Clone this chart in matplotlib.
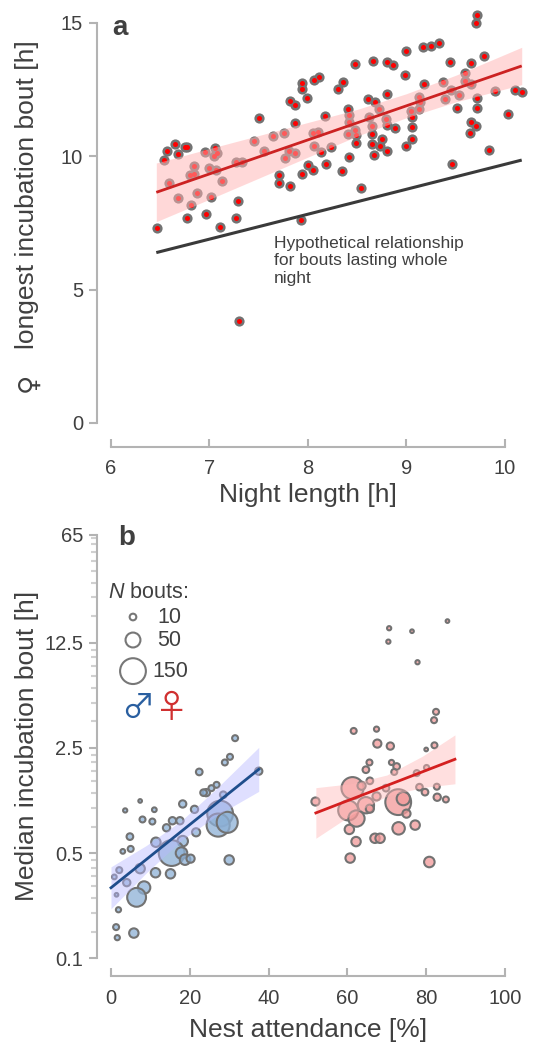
import numpy as np
import matplotlib
matplotlib.use('Agg')
import matplotlib.pyplot as plt

plt.rcParams['font.family'] = ['Liberation Sans', 'DejaVu Sans']
plt.rcParams['mathtext.fontset'] = 'custom'
plt.rcParams['mathtext.it'] = 'Liberation Sans:italic'
plt.rcParams['mathtext.rm'] = 'Liberation Sans'

# ---------------- Panel a data ----------------
night_length = [
    6.54, 6.57, 6.65, 6.68, 6.75, 6.77, 6.95, 7.06, 7.08, 7.05, 6.84, 6.84, 6.80,
    6.59, 6.99, 7.07, 7.13, 7.27, 7.33, 7.45, 7.50, 7.55, 7.64, 6.68, 6.87, 7.02,
    6.81, 7.29, 6.77, 6.96, 7.27, 6.47, 7.11, 7.71, 7.71, 7.82, 7.77,
    7.30, 7.93, 7.94, 8.00, 8.05, 8.18, 8.35, 8.54, 9.46,
    9.71, 9.72, 9.79, 9.17, 9.25, 9.33, 9.00, 8.48, 8.66, 8.80, 8.86, 9.44, 9.65,
    8.98, 9.59, 9.18, 9.37, 9.59, 9.65, 9.90, 10.10, 10.17, 10.03, 7.94, 7.94,
    8.06, 8.11, 8.30, 8.36, 7.82, 7.87, 7.99, 7.76, 7.87, 8.05, 8.10, 8.17, 8.41,
    8.42, 8.42, 8.41, 8.48, 8.49, 8.06, 8.13, 8.23, 7.81, 7.87, 8.42, 8.49, 8.61,
    8.68, 8.80, 8.72, 8.62, 8.79, 8.80, 8.65, 8.65, 8.88, 8.65, 8.75, 8.73, 8.80,
    8.67, 9.00, 9.06, 9.06, 9.06, 9.05, 9.13, 9.13, 9.14, 9.39, 9.45, 9.53, 9.51,
    9.72, 9.72, 9.65, 9.71, 9.64, 9.84,
]
longest_bout = [
    9.86, 10.20, 10.45, 10.09, 10.34, 10.34, 10.17, 10.30, 10.14, 10.01, 9.64, 9.34, 9.30,
    8.99, 9.55, 9.49, 9.09, 9.80, 9.80, 10.59, 11.45, 10.20, 10.77, 8.45, 8.63, 8.46,
    8.17, 8.34, 7.67, 7.83, 7.67, 7.30, 7.34, 9.30, 9.01, 8.89, 9.92,
    3.84, 7.61, 9.34, 9.67, 9.49, 9.71, 9.46, 8.80, 9.70,
    14.99, 15.30, 13.77, 14.09, 14.15, 14.24, 13.95, 13.45, 13.58, 13.52, 13.42, 13.52, 13.49,
    13.05, 13.13, 12.71, 12.80, 12.82, 12.70, 12.45, 12.49, 12.42, 11.57, 12.74, 12.51,
    12.88, 12.96, 12.51, 12.80, 12.07, 11.92, 12.20, 10.86, 11.26, 10.86, 10.92, 11.52, 11.76,
    11.55, 11.30, 10.83, 10.99, 10.80, 10.39, 10.17, 10.34, 10.20, 10.14, 9.96, 10.51, 12.14,
    12.05, 12.34, 11.76, 11.49, 11.39, 11.17, 11.14, 10.84, 11.05, 10.46, 10.64, 10.39, 10.21,
    10.05, 10.39, 10.64, 11.09, 11.49, 11.71, 11.76, 12.24, 12.05, 12.14, 12.49, 12.30, 11.80,
    12.17, 11.80, 11.27, 11.14, 10.89, 10.24,
]
fit_a_x = [6.46, 10.17]
fit_a_y = [8.65, 13.39]
band_a_x = [6.46, 7.0, 7.5, 8.0, 8.5, 9.0, 9.5, 10.17]
band_a_lo = [7.55, 8.39, 9.18, 9.97, 10.76, 11.45, 12.04, 12.69]
band_a_hi = [9.75, 10.29, 10.78, 11.27, 11.76, 12.35, 13.04, 14.09]
hypo_x = [6.46, 10.17]
hypo_y = [6.39, 9.86]

# ---------------- Panel b data ----------------
male_att = [37.5, 31.5, 30.2, 28.9, 22.4, 26.8, 25.5, 24.2, 23.5, 28.5, 18.2, 7.4, 3.6,
            11.0, 21.2, 8.0, 10.5, 14.1, 15.6, 17.5, 27.7, 27.2, 29.5, 21.6, 4.8, 11.4,
            5.0, 3.0, 18.2, 15.4, 17.9, 18.8, 20.2, 30.0, 7.4, 2.1, 0.85, 4.0, 11.3, 15.1,
            8.4, 6.5, 1.4, 1.9, 1.3, 1.6, 5.8]
male_med = [1.75, 2.9, 2.18, 2.0, 1.73, 1.42, 1.35, 1.26, 1.26, 1.22, 1.06, 1.11, 0.96,
            0.97, 0.976, 0.836, 0.81, 0.736, 0.82, 0.82, 0.914, 0.767, 0.80, 0.687, 0.643, 0.59,
            0.533, 0.513, 0.60, 0.50, 0.50, 0.452, 0.459, 0.45, 0.394, 0.385, 0.347, 0.318, 0.37, 0.364,
            0.295, 0.254, 0.264, 0.21, 0.161, 0.137, 0.147]
male_n = [12, 8, 8, 8, 10, 8, 8, 12, 10, 10, 12, 3, 4,
          5, 12, 8, 8, 12, 12, 12, 150, 120, 100, 15, 10, 20,
          8, 5, 25, 150, 30, 25, 15, 20, 20, 8, 5, 12, 20, 20,
          35, 80, 3, 6, 8, 6, 20]

female_att = [51.9, 61.3, 63.6, 65.6, 64.7, 65.7, 67.4, 64.7, 65.7, 60.2, 62.3, 60.5, 62.2,
              60.7, 67.0, 68.3, 71.2, 72.5, 71.9, 69.8, 72.9, 74.2, 75.0, 73.0, 77.2, 77.6,
              80.1, 78.3, 79.7, 82.7, 82.8, 85.0, 80.8,
              70.6, 70.4, 76.4, 85.4, 77.8, 82.5, 82.0, 61.6, 67.4, 67.6, 70.9, 82.1, 80.0]
female_med = [1.10, 1.35, 1.40, 2.0, 1.79, 1.51, 1.19, 1.04, 0.986, 0.96, 0.848, 0.718, 0.596,
              0.463, 0.627, 0.627, 2.0, 1.88, 1.73, 1.35, 1.09, 1.15, 0.914, 0.73, 0.767, 1.7,
              1.85, 1.37, 1.27, 1.38, 1.175, 1.135, 0.436,
              15.6, 12.7, 14.9, 17.4, 9.27, 4.34, 3.82, 3.24, 3.33, 2.67, 2.57, 2.6, 2.44]
female_n = [15, 110, 15, 8, 10, 10, 15, 60, 15, 90, 60, 20, 20,
            20, 20, 20, 6, 10, 8, 10, 150, 40, 15, 35, 20, 8,
            6, 10, 10, 8, 12, 8, 25,
            4, 4, 3, 3, 4, 8, 8, 8, 6, 15, 12, 8, 3]

fit_m_x = [0.0, 37.5]
fit_m_y = [0.294, 1.80]
band_m_x = [0, 9, 18, 27, 37.5]
band_m_lo = [0.213, 0.370, 0.610, 0.894, 1.285]
band_m_hi = [0.405, 0.562, 0.826, 1.358, 2.52]

fit_f_x = [52.0, 87.3]
fit_f_y = [0.924, 2.10]
band_f_x = [52, 61, 70, 79, 87.3]
band_f_lo = [0.627, 0.897, 1.195, 1.363, 1.443]
band_f_hi = [1.36, 1.445, 1.65, 2.197, 3.05]

legend_n = [10, 50, 150]

yb_major = [0.1, 0.5, 2.5, 12.5, 65]
yb_major_labels = ['0.1', '0.5', '2.5', '12.5', '65']
yb_minor = [0.15, 0.2, 0.25, 0.3, 0.35, 0.4, 0.45,
            0.75, 1.0, 1.25, 1.5, 1.75, 2.0, 2.25,
            3.75, 5.0, 6.25, 7.5, 8.75, 10.0, 11.25,
            18.75, 25.0, 31.25, 37.5, 43.75, 50.0, 56.25, 62.5]

# ---------------- Figure ----------------
W, H = 553, 1046
fig = plt.figure(figsize=(W / 100, H / 100), dpi=100)


def rect(l, r, t, b):
    return [l / W, 1 - b / H, (r - l) / W, (b - t) / H]


axa = fig.add_axes(rect(97, 530, 10, 447))
axb = fig.add_axes(rect(97, 530, 525, 976))

SPINE = '#b3b3b3'
TXT = '#404040'

for ax in (axa, axb):
    ax.patch.set_alpha(0)
    for s in ('top', 'right'):
        ax.spines[s].set_visible(False)
    for s in ('left', 'bottom'):
        ax.spines[s].set_color(SPINE)
        ax.spines[s].set_linewidth(1.5)
    ax.tick_params(axis='x', direction='in', length=6, width=1.5, color=SPINE,
                   labelsize=14.5, labelcolor=TXT, pad=9)
    ax.tick_params(axis='y', direction='out', length=6, width=1.5, color=SPINE,
                   labelsize=14.5, labelcolor=TXT, pad=4)

# ---- panel a ----
axa.set_xlim(5.858, 10.254)
axa.set_ylim(-0.9, 15.4875)
axa.spines['left'].set_bounds(0, 15)
axa.spines['bottom'].set_bounds(6, 10)
axa.set_xticks([6, 7, 8, 9, 10])
axa.set_yticks([0, 5, 10, 15])

axa.scatter(night_length, longest_bout, s=54, color='#737373', linewidths=0, zorder=2)
axa.scatter(night_length, longest_bout, s=13, color='#ff0000', linewidths=0, zorder=2.1)
axa.fill_between(band_a_x, band_a_lo, band_a_hi, color='#ffb3b3', alpha=0.5,
                 linewidth=0, zorder=3)
axa.plot(fit_a_x, fit_a_y, color='#cc2222', lw=2.0, zorder=4, solid_capstyle='butt')
axa.plot(hypo_x, hypo_y, color='#3a3a3a', lw=2.2, zorder=4, solid_capstyle='butt')
axa.text(7.655, 7.01, 'Hypothetical relationship\nfor bouts lasting whole\nnight',
         fontsize=12.5, color=TXT, ha='left', va='top', linespacing=1.2)
axa.text(0.035, 0.943, 'a', transform=axa.transAxes, fontsize=20, fontweight='bold',
         color=TXT, ha='left', va='baseline')

# ---- panel b ----
axb.set_yscale('log')
axb.set_xlim(-3.55, 106.35)
axb.set_ylim(0.0762, 75.7)
axb.spines['left'].set_bounds(0.1, 65)
axb.spines['bottom'].set_bounds(0, 100)
axb.set_xticks([0, 20, 40, 60, 80, 100])
axb.set_yticks(yb_major)
axb.set_yticklabels(yb_major_labels)
axb.set_yticks(yb_minor, minor=True)
axb.yaxis.set_minor_formatter(matplotlib.ticker.NullFormatter())
axb.tick_params(axis='y', which='minor', direction='out', length=4, width=1.5,
                color='#d0d0d0')


def sz(n):
    return 2.3 * np.asarray(n, dtype=float)


axb.scatter(male_att, male_med, s=sz(male_n), facecolor=(0.55, 0.69, 0.84, 0.75),
            edgecolor='#727272', linewidths=1.5, zorder=2)
axb.scatter(female_att, female_med, s=sz(female_n), facecolor=(0.95, 0.60, 0.60, 0.75),
            edgecolor='#727272', linewidths=1.5, zorder=2)
axb.fill_between(band_m_x, band_m_lo, band_m_hi, color='#b8b8ff', alpha=0.45,
                 linewidth=0, zorder=3)
axb.fill_between(band_f_x, band_f_lo, band_f_hi, color='#ffb8b8', alpha=0.45,
                 linewidth=0, zorder=3)
axb.plot(fit_m_x, fit_m_y, color='#1f4e8c', lw=2.0, zorder=4)
axb.plot(fit_f_x, fit_f_y, color='#d42020', lw=2.0, zorder=4)

axb.text(0.0485, 0.956, 'b', transform=axb.transAxes, fontsize=20, fontweight='bold',
         color=TXT, ha='left', va='baseline')
axb.text(0.025, 0.851, r'$N$ bouts:', transform=axb.transAxes, fontsize=15.5,
         color=TXT, ha='left', va='center')
leg_y = [0.796, 0.745, 0.676]
axb.scatter([0.0831] * 3, leg_y, s=sz(legend_n), facecolor='none', edgecolor='#777777',
            linewidths=1.5, transform=axb.transAxes, zorder=5, clip_on=False)
for n, yy in zip(legend_n, leg_y):
    xx = 0.127 if n >= 100 else 0.139
    axb.text(xx, yy, str(n), transform=axb.transAxes, fontsize=15.5, color=TXT,
             ha='left', va='center')
axb.text(0.095, 0.594, '\u2642', transform=axb.transAxes, fontsize=24, color='#2a5fa0',
         ha='center', va='center', family=['Noto Sans CJK JP', 'DejaVu Sans'])
axb.text(0.173, 0.594, '\u2640', transform=axb.transAxes, fontsize=24, color='#d03030',
         ha='center', va='center', family=['Noto Sans CJK JP', 'DejaVu Sans'])

# ---- axis titles ----
fig.text(308 / W, 1 - 495 / H, 'Night length [h]', fontsize=19, color=TXT,
         ha='center', va='center')
fig.text(27 / W, 1 - 40 / H, 'longest incubation bout [h]', fontsize=19,
         color=TXT, ha='center', va='top', rotation=90)
fig.text(28 / W, 1 - 392 / H, '\u2640', fontsize=19, color=TXT, ha='center',
         va='bottom', rotation=90, family=['DejaVu Sans'])
fig.text(308 / W, 1 - 1030 / H, 'Nest attendance [%]', fontsize=19, color=TXT,
         ha='center', va='center')
fig.text(27 / W, 1 - 746 / H, 'Median incubation bout [h]', fontsize=19, color=TXT,
         ha='center', va='center', rotation=90)

fig.savefig('out.png', dpi=100, facecolor='white')
